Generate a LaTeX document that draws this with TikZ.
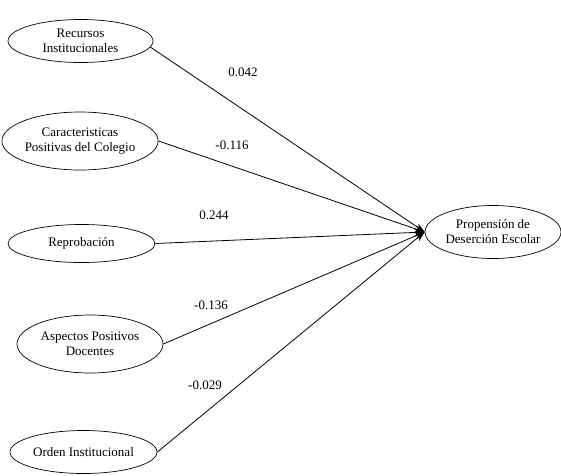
\documentclass[tikz,border=0pt]{standalone}
\usepackage{fontspec}
\setmainfont{Liberation Serif}
\usetikzlibrary{shapes.geometric,arrows.meta}
\begin{document}
\begin{tikzpicture}[x=1pt,y=-1pt,
  var/.style={ellipse,draw,line width=0.7pt,inner sep=0pt,align=center,font=\fontsize{13}{15}\selectfont},
  link/.style={draw,line width=0.8pt,-{Stealth[length=10pt,width=7pt]}},
  coef/.style={font=\fontsize{13}{15}\selectfont,inner sep=1pt}]
\useasboundingbox (0,0) rectangle (561,475);
\node[var,minimum width=145pt,minimum height=43pt] (r1) at (80.5,41) {Recursos\\Institucionales};
\node[var,minimum width=150pt,minimum height=58pt] (r2) at (80,141) {Caracteristicas\\Positivas del Colegio};
\node[var,minimum width=147pt,minimum height=38pt] (r3) at (81.5,243.5) {Reprobación};
\node[var,minimum width=146pt,minimum height=58pt] (r4) at (90,344) {Aspectos Positivos\\Docentes};
\node[var,minimum width=147pt,minimum height=43pt] (r5) at (83.5,452) {Orden Institucional};
\node[var,minimum width=136pt,minimum height=53pt] (t) at (493,232) {Propensión de\\Deserción Escolar};
\draw[link] (r1.-5) -- (t.west);
\draw[link] (r2.east) -- (t.west);
\draw[link] (r3.east) -- (t.west);
\draw[link] (r4.east) -- (t.west);
\draw[link] (r5.east) -- (t.west);
\node[coef] (c1) at (243,72) {0.042};
\node[coef] (c2) at (232,145) {-0.116};
\node[coef] (c3) at (214,215) {0.244};
\node[coef] (c4) at (211,305) {-0.136};
\node[coef] (c5) at (205,385) {-0.029};
\end{tikzpicture}
\end{document}
